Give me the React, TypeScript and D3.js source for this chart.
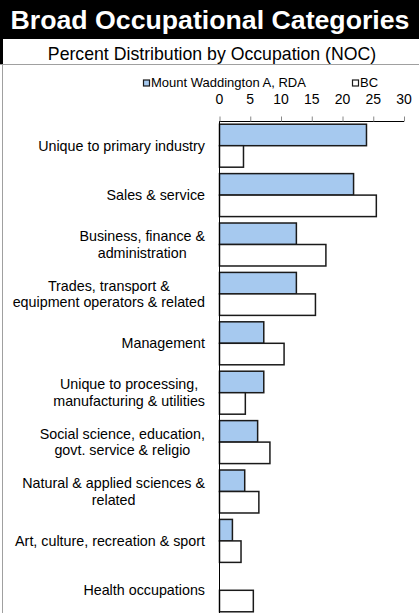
import React, { useEffect, useRef } from "react";
import * as d3 from "d3";

const categories: string[][] = [
  ["Unique to primary industry"],
  ["Sales & service"],
  ["Business, finance &", "administration"],
  ["Trades, transport &", "equipment operators & related"],
  ["Management"],
  ["Unique to processing,", "manufacturing & utilities"],
  ["Social science, education,", "govt. service & religio"],
  ["Natural & applied sciences &", "related"],
  ["Art, culture, recreation & sport"],
  ["Health occupations"],
];
const seriesNames = ["Mount Waddington A, RDA", "BC"];
const mountWaddington = [23.9, 21.8, 12.5, 12.5, 7.2, 7.2, 6.2, 4.1, 2.1, 0];
const bc = [3.9, 25.5, 17.3, 15.6, 10.5, 4.2, 8.2, 6.4, 3.5, 5.5];
const tickValues = [0, 5, 10, 15, 20, 25, 30];
const title = "Broad Occupational Categories";
const subtitle = "Percent Distribution by Occupation (NOC)";

const W = 419;
const H = 613;
const FONT = "'Liberation Sans', Arial, sans-serif";
const BLUE = "#a6c9ef";

export default function App() {
  const ref = useRef<SVGSVGElement | null>(null);

  useEffect(() => {
    const svg = d3.select(ref.current);
    svg.selectAll("*").remove();

    // header
    svg.append("rect").attr("x", 0).attr("y", 0).attr("width", W).attr("height", 39).attr("fill", "#000");
    svg.append("text").attr("x", 210).attr("y", 29).attr("text-anchor", "middle")
      .attr("font-family", FONT).attr("font-weight", "bold").attr("font-size", 26.7).attr("fill", "#fff").text(title);
    svg.append("rect").attr("x", 0).attr("y", 39).attr("width", 3).attr("height", 25).attr("fill", "#000");
    svg.append("text").attr("x", 212).attr("y", 59.5).attr("text-anchor", "middle")
      .attr("font-family", FONT).attr("font-size", 17.7).attr("fill", "#000").text(subtitle);
    svg.append("line").attr("x1", 0).attr("x2", W).attr("y1", 64.5).attr("y2", 64.5).attr("stroke", "#a0a0a0").attr("stroke-width", 1);
    svg.append("line").attr("x1", 2.5).attr("x2", 2.5).attr("y1", 64).attr("y2", H).attr("stroke", "#a0a0a0").attr("stroke-width", 1);

    const x = d3.scaleLinear().domain([0, 30]).range([219.5, 404]);
    const keys = categories.map((c) => c.join(" "));
    const y = d3.scaleBand<string>().domain(keys).range([121, 121 + 494]).paddingInner(0.13).paddingOuter(0.065);
    const sub = d3.scaleBand<string>().domain(seriesNames).range([0, y.bandwidth()]);

    const data = [mountWaddington, bc];
    const fills = [BLUE, "#fff"];

    // bars
    data.forEach((vals, si) => {
      svg.append("g").selectAll("rect").data(vals).join("rect")
        .filter((d) => d > 0)
        .attr("x", x(0))
        .attr("y", (_d, i) => (y(keys[i]) as number) + (sub(seriesNames[si]) as number))
        .attr("width", (d) => x(d) - x(0))
        .attr("height", sub.bandwidth())
        .attr("fill", fills[si])
        .attr("stroke", "#1a1a1a")
        .attr("stroke-width", 1.5);
    });

    // axes
    svg.append("line").attr("x1", x(0)).attr("x2", x(0)).attr("y1", 121).attr("y2", H).attr("stroke", "#000").attr("stroke-width", 1);
    const axis = svg.append("g").attr("transform", "translate(0,121.5)");
    axis.call(d3.axisTop(x).tickValues(tickValues).tickSize(5).tickFormat(() => ""));
    axis.select(".domain").attr("stroke", "#000").attr("d", `M${x(0)},0H${x(30)}`);
    axis.selectAll(".tick line").attr("stroke", "#888");
    svg.append("g").selectAll("text").data(tickValues).join("text")
      .attr("x", (d) => x(d)).attr("y", 104).attr("text-anchor", "middle")
      .attr("font-family", FONT).attr("font-size", 14).attr("fill", "#000").text((d) => String(d));

    // legend
    const leg = [{ x: 143.5, t: seriesNames[0], f: BLUE }, { x: 352.5, t: seriesNames[1], f: "#fff" }];
    leg.forEach((l) => {
      svg.append("rect").attr("x", l.x).attr("y", 80).attr("width", 6).attr("height", 6)
        .attr("fill", l.f).attr("stroke", "#1a1a1a").attr("stroke-width", 1.2);
      svg.append("text").attr("x", l.x + 7.5).attr("y", 87).attr("font-family", FONT)
        .attr("font-size", 13).attr("fill", "#000").text(l.t);
    });

    // category labels
    const rightX = 205;
    categories.forEach((lines, i) => {
      const cy = (y(keys[i]) as number) + y.bandwidth() / 2;
      const lh = 16.5;
      const g = svg.append("g");
      const texts = lines.map((ln, j) =>
        g.append("text")
          .attr("y", cy + (j - (lines.length - 1) / 2) * lh + 5)
          .attr("font-family", FONT).attr("font-size", 14.3).attr("fill", "#000").text(ln)
      );
      const widths = texts.map((t) => (t.node() as SVGTextElement).getComputedTextLength());
      const maxW = Math.max(...widths);
      const cx = rightX - maxW / 2;
      texts.forEach((t) => t.attr("x", cx).attr("text-anchor", "middle"));
    });
  }, []);

  return (
    <svg ref={ref} width={W} height={H} style={{ position: "absolute", left: 0, top: 0, background: "#fff" }} />
  );
}
